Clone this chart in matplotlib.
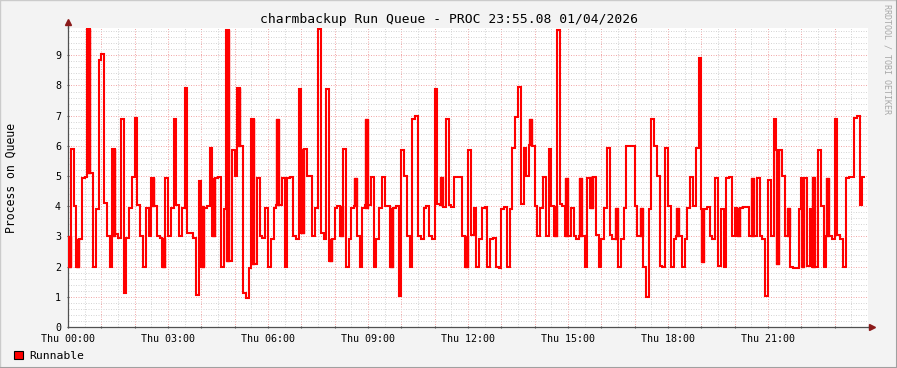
import numpy as np
import matplotlib

matplotlib.use("Agg")
import matplotlib.pyplot as plt
from matplotlib.lines import Line2D
from matplotlib.patches import Patch

plt.rcParams["font.family"] = "DejaVu Sans Mono"

# 5-minute samples of the run queue, Thu 00:00 -> 23:55
STEP_MIN = 5
runnable = [
    2.0, 5.88, 4.02, 2.0, 2.93, 4.93, 4.97, 9.88, 5.1, 2.0,
    3.92, 8.85, 9.03, 4.1, 3.0, 2.0, 5.88, 3.07, 2.95, 6.9,
    1.13, 2.95, 3.95, 4.98, 6.93, 4.05, 3.0, 2.0, 3.93, 3.0,
    4.95, 4.0, 3.0, 2.95, 2.0, 4.92, 3.0, 3.95, 6.9, 4.05,
    3.0, 3.95, 7.9, 3.1, 3.1, 2.95, 1.05, 4.85, 2.0, 3.95,
    4.0, 5.94, 3.0, 4.92, 4.98, 2.0, 3.92, 9.85, 2.17, 5.87,
    5.0, 7.92, 6.0, 1.12, 0.97, 1.96, 6.88, 2.1, 4.92, 3.0,
    2.95, 3.95, 2.0, 2.93, 3.95, 4.03, 4.03, 4.92, 2.0, 4.92,
    4.98, 3.0, 2.93, 7.88, 3.1, 5.9, 5.0, 5.0, 3.0, 3.95,
    9.88, 3.1, 2.93, 7.88, 2.17, 2.93, 3.95, 4.0, 3.0, 5.9,
    2.0, 2.93, 3.95, 4.0, 3.0, 2.0, 3.95, 4.03, 4.03, 4.98,
    2.0, 2.93, 3.95, 4.98, 4.0, 4.0, 2.0, 3.95, 4.0, 1.03,
    5.85, 5.0, 3.0, 2.0, 6.9, 7.0, 3.0, 2.93, 3.95, 4.0,
    3.0, 2.93, 7.88, 4.07, 4.03, 3.97, 6.9, 4.03, 3.97, 4.98,
    4.98, 4.98, 3.0, 2.0, 5.86, 3.05, 3.95, 2.0, 2.93, 3.95,
    3.97, 2.0, 2.93, 2.96, 2.0, 1.96, 3.9, 3.97, 2.0, 3.92,
    5.94, 6.96, 7.96, 4.07, 5.94, 5.0, 6.03, 6.0, 4.02, 3.0,
    3.95, 4.96, 3.0, 5.88, 4.02, 3.0, 9.85, 4.07, 4.02, 3.0,
    3.0, 3.95, 3.0, 2.93, 3.0, 3.0, 2.0, 4.92, 3.95, 4.96,
    3.05, 2.0, 2.93, 3.95, 5.94, 3.05, 2.93, 2.93, 2.0, 2.93,
    3.95, 5.98, 6.0, 6.0, 4.02, 3.0, 3.0, 2.0, 0.99, 3.9,
    6.9, 5.98, 5.0, 2.03, 1.98, 5.92, 4.02, 2.0, 2.93, 3.0,
    3.0, 2.0, 2.93, 3.95, 4.96, 4.0, 5.94, 8.9, 3.92, 3.92,
    3.97, 3.0, 2.93, 4.92, 2.02, 3.92, 2.0, 4.92, 4.98, 3.0,
    3.95, 3.0, 3.95, 3.97, 3.97, 3.0, 3.0, 3.0, 4.92, 3.0,
    2.93, 1.02, 4.87, 3.0, 6.9, 5.87, 5.87, 5.0, 3.0, 3.0,
    2.0, 1.96, 1.96, 3.92, 4.92, 4.92, 2.02, 3.92, 2.0, 2.0,
    5.87, 4.02, 2.0, 3.0, 3.0, 2.93, 6.9, 3.05, 2.93, 2.0,
    4.92, 4.96, 4.96, 6.93, 7.0, 4.03, 4.96,
]

# samples where the queue flapped inside one step (drawn as solid bars)
burst_idx = [0, 3, 7, 16, 30, 34, 48, 52, 57, 61, 66, 75, 84, 94, 98, 103,
             107, 116, 134, 143, 166, 175, 179, 184, 188, 197, 206, 219,
             228, 241, 246, 255, 259, 264, 268, 273]
burst_lo = [2.0, 2.0, 5.1, 3.02, 4.0, 2.0, 2.0, 3.0, 2.17, 5.98, 2.1, 4.03,
            3.1, 2.17, 3.0, 4.0, 3.95, 2.0, 4.03, 2.0, 6.03, 3.0, 3.0, 3.0,
            3.95, 2.93, 3.0, 3.0, 2.15, 3.0, 3.0, 2.1, 3.0, 2.0, 2.0, 3.0]
burst_hi = [3.02, 2.93, 9.88, 5.88, 4.95, 2.95, 4.0, 4.95, 9.85, 7.92, 6.88,
            6.88, 5.9, 2.93, 4.0, 4.95, 6.9, 3.95, 4.98, 3.0, 6.9, 4.02,
            4.92, 4.92, 4.96, 3.95, 3.95, 3.95, 3.92, 3.95, 4.92, 5.87,
            3.95, 4.92, 4.96, 4.92]

y_ticks = list(range(10))
hour_labels = ["Thu %02d:00" % h for h in range(24)]

RED = "#FF0000"
AXIS = "#505050"
MONO = "DejaVu Sans Mono"

fig = plt.figure(figsize=(8.97, 3.68), dpi=100, facecolor="#F3F3F3")
ax = fig.add_axes([68 / 897, 41 / 368, 800 / 897, 299.5 / 368])
ax.set_facecolor("white")

edges = np.arange(len(runnable) + 1) * STEP_MIN
ax.stairs(runnable, edges, baseline=None, color=RED, lw=1.5, zorder=3)
for i, lo, hi in zip(burst_idx, burst_lo, burst_hi):
    ax.fill_between([edges[i], edges[i + 1]], lo, hi, facecolor=RED,
                    edgecolor=RED, lw=1.0, zorder=3)

ax.set_xlim(0, 1440)
ax.set_ylim(0, 9.92)

# grid: hours / half hours, units / fifths; labels every third hour
ax.set_xticks(np.arange(0, 1440, 60))
ax.set_xticklabels([lab if h % 3 == 0 else "" for h, lab in enumerate(hour_labels)])
ax.set_xticks(np.arange(30, 1440, 60), minor=True)
ax.set_yticks(y_ticks)
ax.set_yticks(np.arange(0.2, 9.9, 0.2), minor=True)
ax.grid(which="minor", color="#D6D6D6", linestyle=(0, (1, 1.5)), lw=0.72)
ax.grid(which="major", color="#F2AAAA", linestyle=(0, (1, 1.5)), lw=0.72)
ax.set_axisbelow(True)

ax.tick_params(which="major", length=2, direction="inout", color=AXIS,
               labelsize=7.2, pad=4)
ax.tick_params(which="minor", length=0)
for lab in ax.get_xticklabels() + ax.get_yticklabels():
    lab.set_family(MONO)

for side in ("top", "right"):
    ax.spines[side].set_visible(False)
for side in ("left", "bottom"):
    ax.spines[side].set_color(AXIS)
    ax.spines[side].set_linewidth(0.9)

# axis extensions with arrow heads
ax.plot([0, 0], [1, 1.017], transform=ax.transAxes, color=AXIS, lw=0.9,
        clip_on=False)
ax.plot([1, 1.004], [0, 0], transform=ax.transAxes, color=AXIS, lw=0.9,
        clip_on=False)
ax.plot([0], [1.019], marker="^", ms=4.5, color="#8B1A1A",
        transform=ax.transAxes, clip_on=False)
ax.plot([1.005], [0], marker=">", ms=4.5, color="#8B1A1A",
        transform=ax.transAxes, clip_on=False)

fig.text(0.5, 1 - 19 / 368, "charmbackup Run Queue - PROC 23:55.08 01/04/2026",
         ha="center", va="center", fontsize=9.4, family=MONO)
fig.text(11 / 897, 1 - 178 / 368, "Process on Queue", rotation=90,
         ha="center", va="center", fontsize=8.3, family=MONO)
fig.text(887 / 897, 1 - 4 / 368, "RRDTOOL / TOBI OETIKER", rotation=270,
         ha="center", va="top", fontsize=6, color="#A8A8A8", family=MONO)

fig.legend(handles=[Patch(facecolor=RED, edgecolor="black", lw=0.8)],
           labels=["Runnable"], loc="lower left",
           bbox_to_anchor=(14 / 897, 7 / 368), frameon=False,
           handlelength=0.8, handleheight=0.8, handletextpad=0.5,
           borderpad=0, borderaxespad=0, prop={"family": MONO, "size": 8.2})

# shaded frame round the image
fig.add_artist(Line2D([0, 0], [0, 1], transform=fig.transFigure,
                      color="#CBCBCB", lw=1))
fig.add_artist(Line2D([0, 1], [1, 1], transform=fig.transFigure,
                      color="#CBCBCB", lw=1))
fig.add_artist(Line2D([1, 1], [0, 1], transform=fig.transFigure,
                      color="#A0A0A0", lw=1.5))
fig.add_artist(Line2D([0, 1], [0, 0], transform=fig.transFigure,
                      color="#A0A0A0", lw=1.5))

fig.savefig("out.png", dpi=100, facecolor=fig.get_facecolor())
